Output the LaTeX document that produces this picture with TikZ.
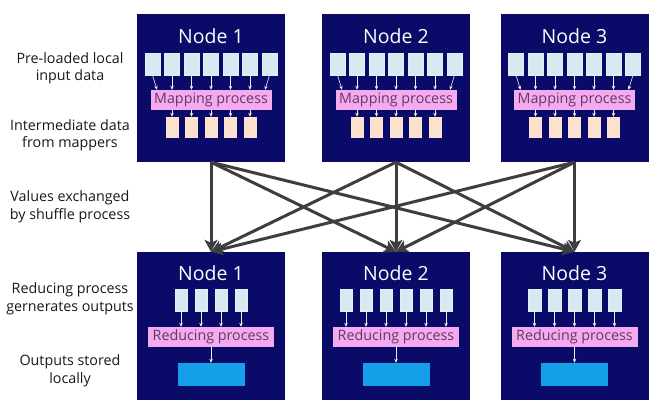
\documentclass[tikz,border=0pt]{standalone}
\usepackage{fontspec}
\setmainfont{Open Sans}
\usetikzlibrary{arrows.meta,calc}
\definecolor{navy}{RGB}{10,10,105}
\definecolor{inblue}{RGB}{214,234,242}
\definecolor{peach}{RGB}{252,226,204}
\definecolor{pinkbox}{RGB}{245,170,240}
\definecolor{pinktext}{RGB}{95,60,95}
\definecolor{outblue}{RGB}{20,160,232}
\definecolor{shuf}{RGB}{62,62,62}
\definecolor{labeltext}{RGB}{25,25,25}
\tikzset{
  nodebox/.style={draw=none,fill=navy,minimum width=148pt,minimum height=148pt,inner sep=0pt},
  title/.style={text=white,font=\fontsize{19.5}{22}\selectfont,inner sep=0pt},
  inrect/.style={fill=inblue,draw=inblue!70!white,line width=0.4pt,minimum width=15pt,minimum height=22pt,inner sep=0pt},
  inrectb/.style={inrect,minimum width=12.5pt},
  midrect/.style={fill=peach,draw=none,minimum width=13pt,minimum height=21pt,inner sep=0pt},
  procbox/.style={fill=pinkbox,draw=none,minimum height=20pt,inner sep=0pt,text=pinktext,font=\fontsize{14.3}{16}\selectfont},
  outrect/.style={fill=outblue,draw=none,minimum width=67pt,minimum height=23pt,inner sep=0pt},
  smallarrow/.style={draw=white!85!gray,line width=0.6pt,-{Stealth[length=4pt,width=3.5pt]}},
  shufarrow/.style={draw=shuf,line width=3pt,-{Stealth[length=12pt,width=13pt,inset=3pt]}},
  sidelabel/.style={align=center,text=labeltext,font=\fontsize{14.3}{17.5}\selectfont,inner sep=0pt}
}
\begin{document}
\begin{tikzpicture}[x=1pt,y=-1pt]
\useasboundingbox[fill=white] (0,0) rectangle (666,403);
% side labels
\node[sidelabel] (l1) at (70,68.5) {Pre-loaded local\\input data};
\node[sidelabel] (l2) at (70,135.5) {Intermediate data\\from mappers};
\node[sidelabel] (l3) at (70,207) {Values exchanged\\by shuffle process};
\node[sidelabel] (l4) at (70,299) {Reducing process\\gernerates outputs};
\node[sidelabel] (l5) at (70,371) {Outputs stored\\locally};
% top nodes
\foreach \i/\cx in {1/211,2/396,3/574.5} {
  \node[nodebox] (t\i) at (\cx,88) {};
  \node[title] (tt\i) at (\cx,36) {Node \i};
  \foreach \k in {0,...,6} {
    \node[inrect] (ti\i-\k) at ({\cx+(\k-3)*19.5},64) {};
  }
  \node[procbox,minimum width=121pt] (m\i) at (\cx,100) {Mapping process};
  \foreach \k in {1,...,5} {
    \draw[smallarrow] (ti\i-\k.south) -- (ti\i-\k.south |- m\i.north);
  }
  \draw[smallarrow] (ti\i-0.south) -- ($(ti\i-0.south |- m\i.north)+(4.5,0)$);
  \draw[smallarrow] (ti\i-6.south) -- ($(ti\i-6.south |- m\i.north)+(-4.5,0)$);
  \foreach \k in {0,...,4} {
    \node[midrect] (mi\i-\k) at ({\cx+(\k-2)*19.5},127.5) {};
    \draw[smallarrow] (m\i.south -| mi\i-\k.north) -- (mi\i-\k.north);
  }
}
% bottom nodes
\foreach \i/\cx/\n in {1/211/4,2/396/6,3/574.5/5} {
  \node[nodebox] (b\i) at (\cx,326) {};
  \node[title] (bt\i) at (\cx,273) {Node \i};
  \node[procbox,minimum width=126pt] (r\i) at (\cx,337) {Reducing process};
  \pgfmathtruncatemacro{\last}{\n-1}
  \foreach \k in {0,...,\last} {
    \node[inrectb] (bi\i-\k) at ({\cx+(\k-(\n-1)/2)*20},300) {};
    \draw[smallarrow] (bi\i-\k.south) -- (bi\i-\k.south |- r\i.north);
  }
  \node[outrect] (o\i) at (\cx,374.5) {};
  \draw[smallarrow] (r\i.south) -- (o\i.north);
}
% shuffle arrows
\foreach \i in {1,2,3} {
  \foreach \j in {1,2,3} {
    \draw[shufarrow] (t\i.south) -- (b\j.north);
  }
}
\end{tikzpicture}
\end{document}
